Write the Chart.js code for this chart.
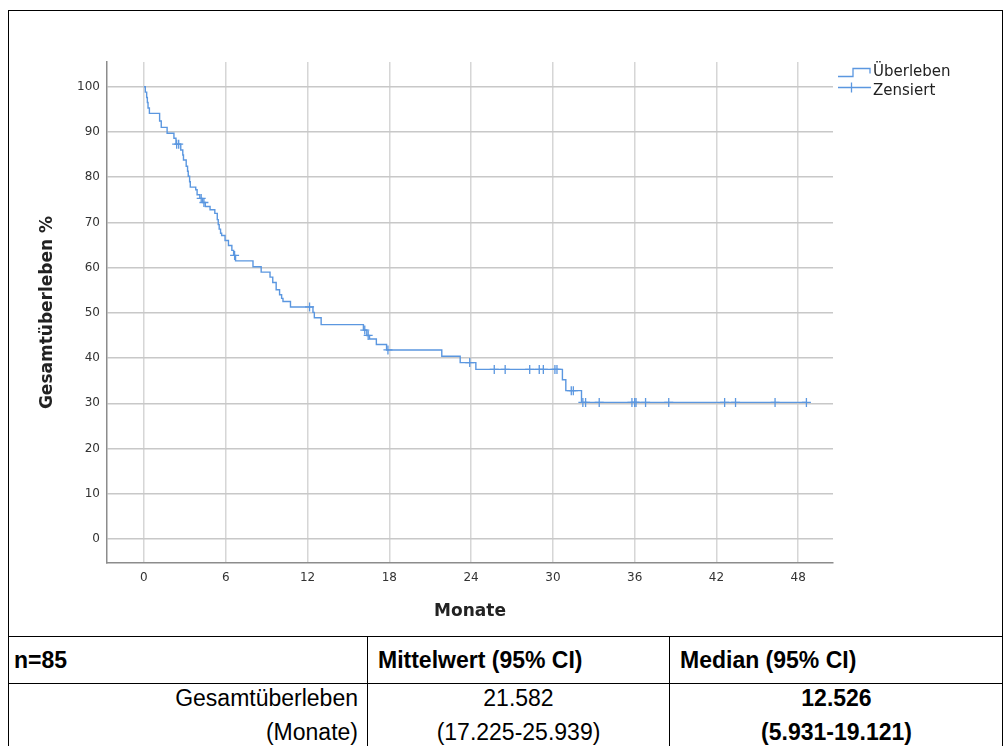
<!DOCTYPE html>
<html>
<head>
<meta charset="utf-8">
<script src="https://cdn.jsdelivr.net/npm/chart.js@4.4.1/dist/chart.umd.min.js"></script>
<style>
  body { margin: 0; width: 1004px; height: 746px; overflow: hidden; background: #fff; position: relative; }
  #frame { position: absolute; left: 8px; top: 10px; width: 995px; height: 800px; box-sizing: border-box; border: 1px solid #000; }
  #km { position: absolute; left: 0; top: 0; }
  table { position: absolute; left: 8px; top: 636px; width: 995px; border-collapse: collapse; font-family: "Liberation Sans", Arial, sans-serif; font-size: 23px; color: #000; }
  td { border-top: 1px solid #000; border-left: 1px solid #000; padding: 0; vertical-align: middle; }
  td:first-child { border-left: none; }
  .head td { height: 46px; font-weight: bold; padding-left: 10px; }
  .head td:first-child { padding-left: 6px; }
  .body td { height: 62px; line-height: 34px; text-align: center; vertical-align: top; }
  .body td div { margin-top: -3px; }
  .body td:first-child { text-align: right; padding-right: 9px; }
  .bold { font-weight: bold; }
</style>
</head>
<body>
<div id="frame"></div>
<canvas id="km" width="1004" height="636"></canvas>
<table>
  <tr class="head"><td style="width:353px">n=85</td><td style="width:291px">Mittelwert (95% CI)</td><td>Median (95% CI)</td></tr>
  <tr class="body"><td><div>Gesamtüberleben<br>(Monate)</div></td><td><div>21.582<br>(17.225-25.939)</div></td><td class="bold"><div>12.526<br>(5.931-19.121)</div></td></tr>
</table>
<script>
// ============================================
// KAPLAN-MEIER DATA
// ============================================
const survTimes = [0, 0.1, 0.2, 0.25, 0.3, 0.4, 1.15, 1.27, 1.7, 2.2, 2.35, 2.7, 2.85, 2.9, 3.1, 3.2, 3.25, 3.35, 3.4,
  3.8, 3.9, 4.1, 4.3, 4.5, 4.85, 5.2, 5.38, 5.45, 5.52, 5.62, 5.7, 5.95, 6.2, 6.45, 6.58, 6.72,
  8.0, 8.6, 9.25, 9.45, 9.7, 9.95, 10.1, 10.2, 10.75, 12.4, 12.5, 13.0,
  16.1, 16.35, 16.55, 17.05, 17.8, 21.85, 23.2, 24.35, 30.7, 30.95, 32.1, 48.6];
const survValues = [100, 98.8, 97.6, 96.5, 95.3, 94.1, 92.4, 91.0, 89.7, 88.6, 87.3, 86.0, 84.9, 83.8, 82.4, 81.3, 80.2, 79.0, 77.8,
  77.2, 76.1, 75.3, 74.4, 73.5, 72.8, 72.0, 70.6, 69.5, 68.5, 67.6, 67.1, 66.0, 64.9, 63.8, 62.7, 61.5,
  60.2, 59.0, 57.9, 56.7, 55.1, 54.0, 53.2, 52.5, 51.3, 50.1, 48.9, 47.4,
  46.2, 45.0, 44.2, 43.0, 41.8, 40.4, 39.0, 37.5, 35.2, 32.8, 30.2, 30.2];
const censorTimes = [2.4, 2.55, 4.2, 4.4, 6.65, 12.15, 16.2, 16.45, 17.9, 23.9, 25.7, 26.5, 28.3, 29.0, 29.3, 30.15, 30.3,
  31.35, 31.5, 32.2, 32.4, 33.4, 35.8, 36.0, 36.1, 36.8, 38.5, 42.6, 43.4, 46.3, 48.6];
const xTicks = [0, 6, 12, 18, 24, 30, 36, 42, 48];
const yTicks = [0, 10, 20, 30, 40, 50, 60, 70, 80, 90, 100];

const lineColor = '#5b97e0';

// survival value at time t (step function)
function survivalAt(t) {
  let s = survValues[0];
  for (let i = 0; i < survTimes.length; i++) {
    if (survTimes[i] <= t) s = survValues[i];
  }
  return s;
}

const curvePoints = survTimes.map((t, i) => ({ x: t, y: survValues[i] }));
const censorPoints = censorTimes.map(t => ({ x: t, y: survivalAt(t) }));

// legend drawn in the right margin, like the SPSS output
const kmLegend = {
  id: 'kmLegend',
  afterDraw(chart) {
    const ctx = chart.ctx;
    const x0 = chart.chartArea.right + 5;
    ctx.save();
    ctx.strokeStyle = lineColor;
    ctx.lineWidth = 1.3;
    ctx.beginPath();
    ctx.moveTo(x0, 76.5);
    ctx.lineTo(x0 + 15, 76.5);
    ctx.lineTo(x0 + 15, 68.5);
    ctx.lineTo(x0 + 32, 68.5);
    ctx.lineTo(x0 + 32, 73.5);
    ctx.stroke();
    ctx.beginPath();
    ctx.moveTo(x0, 87.5);
    ctx.lineTo(x0 + 33, 87.5);
    ctx.moveTo(x0 + 13.5, 82.5);
    ctx.lineTo(x0 + 13.5, 92.5);
    ctx.stroke();
    ctx.fillStyle = '#222';
    ctx.font = '15px "DejaVu Sans"';
    ctx.textBaseline = 'middle';
    ctx.fillText('Überleben', x0 + 35, 72);
    ctx.fillText('Zensiert', x0 + 35, 91);
    ctx.restore();
  }
};

new Chart(document.getElementById('km'), {
  type: 'line',
  data: {
    datasets: [{
      label: 'Überleben',
      data: curvePoints,
      borderColor: lineColor,
      borderWidth: 1.4,
      stepped: true,
      pointRadius: 0,
      fill: false
    }, {
      label: 'Zensiert',
      data: censorPoints,
      showLine: false,
      pointStyle: 'cross',
      pointRadius: 4.5,
      pointBorderColor: lineColor,
      pointBorderWidth: 1.3
    }]
  },
  options: {
    responsive: false,
    animation: false,
    devicePixelRatio: 1,
    layout: { padding: { top: 62, right: 171, left: 30, bottom: 0 } },
    plugins: {
      legend: { display: false },
      tooltip: { enabled: false }
    },
    scales: {
      x: {
        type: 'linear',
        min: -2.71,
        max: 50.55,
        afterFit: s => { s.height = 73; },
        afterBuildTicks: s => { s.ticks = xTicks.map(v => ({ value: v })); },
        ticks: { color: '#333', font: { family: 'DejaVu Sans', size: 12 }, padding: 8, maxRotation: 0 },
        grid: { color: '#d6d6d6', lineWidth: 1.5, drawTicks: false },
        border: { color: '#8c8c8c', width: 1.5 },
        title: { display: true, text: 'Monate', color: '#222', font: { family: 'DejaVu Sans', size: 17, weight: 'bold' }, padding: { top: 0, bottom: 14 } }
      },
      y: {
        min: -5.31,
        max: 105.46,
        afterFit: s => { s.width = 77; },
        afterBuildTicks: s => { s.ticks = yTicks.map(v => ({ value: v })); },
        ticks: { color: '#333', font: { family: 'DejaVu Sans', size: 12 }, padding: 7 },
        grid: { color: '#c8c8c8', lineWidth: 1.5, drawTicks: false },
        border: { color: '#8c8c8c', width: 1.5 },
        title: { display: true, text: 'Gesamtüberleben %', color: '#222', font: { family: 'DejaVu Sans', size: 17, weight: 'bold' }, padding: { top: 7, bottom: 0 } }
      }
    }
  },
  plugins: [kmLegend]
});
</script>
</body>
</html>
